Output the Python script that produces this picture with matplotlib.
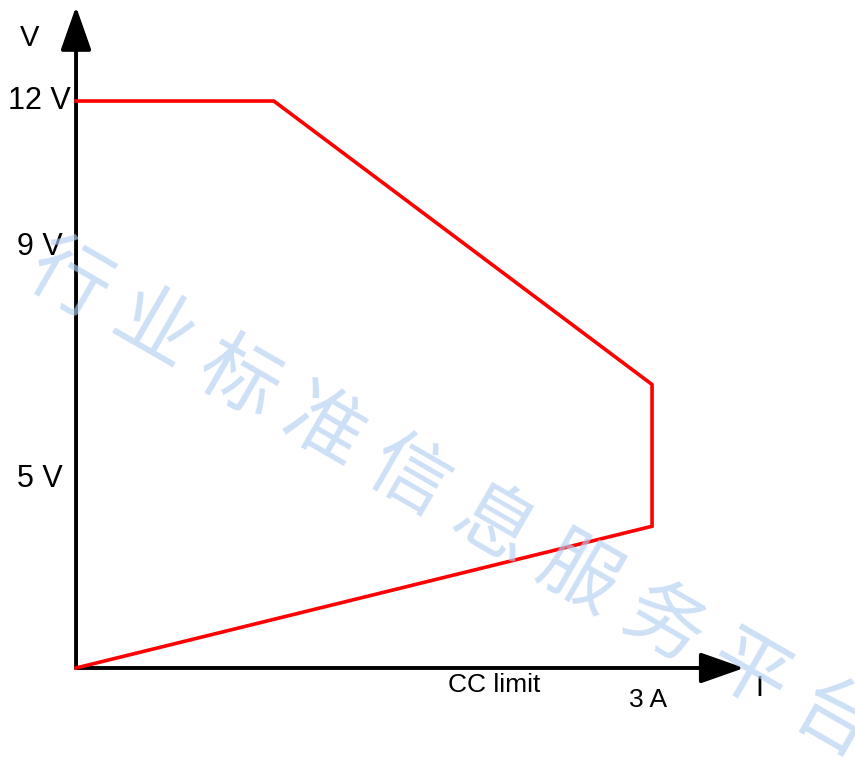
import matplotlib
matplotlib.use("Agg")
import matplotlib.pyplot as plt
import numpy as np

# CC/CV operating envelope (schematic, current in A, voltage in V)
current = [0, 3.0, 3.0, 1.03, 0]
voltage = [0, 3.0, 6.0, 12.0, 12.0]

# voltage labels on the left axis (position, text)
v_tick_pos = [12.0, 8.9, 4.0]
v_tick_labels = ["12 V", "9 V", "5 V"]

# axis ends
x_end = 3.48
y_end = 14.0

watermark = "行业标准信息服务平台"

plt.rcParams['font.family'] = ['Liberation Sans', 'DejaVu Sans']

fig = plt.figure(figsize=(8.55, 7.58), dpi=100)
ax = fig.add_axes([0, 0, 1, 1])
ax.set_xlim(-0.396, 4.057)
ax.set_ylim(-1.905, 14.138)
ax.axis('off')

# axes with arrow heads
arrow_kw = dict(arrowstyle='-|>,head_length=2.7,head_width=0.95', mutation_scale=10,
                lw=2.8, color='black', shrinkA=0, shrinkB=0)
ax.annotate('', xy=(x_end, 0), xytext=(0, 0), arrowprops=arrow_kw, zorder=2)
ax.annotate('', xy=(0, y_end), xytext=(0, 0), arrowprops=arrow_kw, zorder=2)

# envelope
ax.plot(current, voltage, color='#ff0000', lw=2.6, solid_joinstyle='miter', zorder=3)

# labels
ax.text(-0.24, 13.33, "V", fontsize=21, ha='center', va='center')
for pos, lab in zip(v_tick_pos, v_tick_labels):
    right = -0.025 if lab == "12 V" else -0.068
    ax.text(right, pos, lab, fontsize=22, ha='right', va='center')
ax.text(2.18, -0.36, "CC limit", fontsize=19, ha='center', va='center')
ax.text(2.98, -0.68, "3 A", fontsize=19, ha='center', va='center')
ax.text(3.56, -0.42, "I", fontsize=21, ha='center', va='center')

# watermark, one character at a time along a slanted line (figure pixels)
start = np.array([68.0, 282.0])
step = np.array([85.0, 49.0])
for i, ch in enumerate(watermark):
    px, py = start + i * step
    fig.text(px / 855, 1 - py / 758, ch, fontsize=57, rotation=-30,
             family=['Noto Sans CJK SC', 'DejaVu Sans'], color='#b3cff2',
             alpha=0.65, ha='center', va='center', rotation_mode='anchor', zorder=5)

fig.savefig('out.png', dpi=100)
